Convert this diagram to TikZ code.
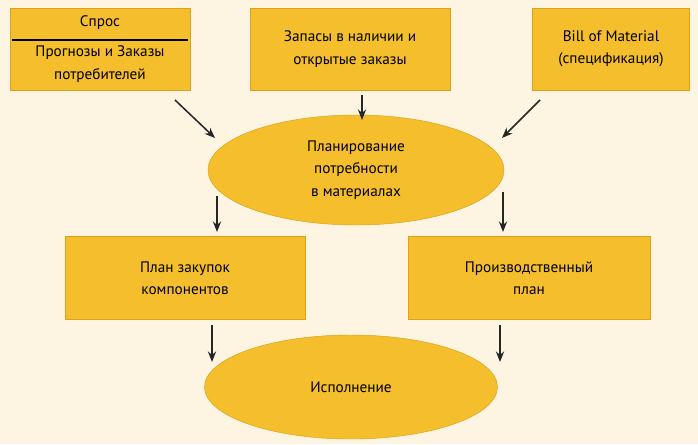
\documentclass[tikz,border=0pt]{standalone}
\usepackage{fontspec}
\setmainfont{PT Sans}
\usetikzlibrary{arrows.meta,shapes.geometric}
\definecolor{mrpYellow}{HTML}{F4BE2C}
\definecolor{mrpEdge}{HTML}{D9A21A}
\definecolor{mrpBack}{HTML}{FDF5E2}
\tikzset{
  block/.style={draw=mrpEdge, fill=mrpYellow, align=center, font=\fontsize{13}{19}\selectfont},
  flow/.style={-{Stealth[length=9pt,width=7pt]}, line width=1.3pt, black!85}
}
\begin{document}
\begin{tikzpicture}[x=0.03cm, y=-0.03cm]
  \fill[mrpBack] (0,0) rectangle (698,444);
  \useasboundingbox (0,0) rectangle (698,444);

  \node[block, minimum width=180*0.03cm, minimum height=82*0.03cm] (demand) at (100,49) {};
  \draw[line width=1.2pt] (12,40) -- (188,40);
  \node[font=\fontsize{13}{19}\selectfont] (demandtop) at (100,23) {Спрос};
  \node[font=\fontsize{13}{19}\selectfont, align=center] (demandbot) at (100,64) {Прогнозы и Заказы\\потребителей};

  \node[block, minimum width=200*0.03cm, minimum height=82*0.03cm] (stock) at (350,49) {Запасы в наличии и\\открытые заказы};
  \node[block, minimum width=157*0.03cm, minimum height=82*0.03cm] (bom) at (611,49) {Bill of Material\\(спецификация)};

  \node[block, ellipse, minimum width=296*0.03cm, minimum height=110*0.03cm] (mrp) at (356,170) {Планирование\\потребности\\в материалах};

  \node[block, minimum width=240*0.03cm, minimum height=83*0.03cm] (purchase) at (185,278) {План закупок\\компонентов};
  \node[block, minimum width=242*0.03cm, minimum height=83*0.03cm] (production) at (529,278) {Производственный\\план};

  \node[block, ellipse, minimum width=293*0.03cm, minimum height=104*0.03cm] (exec) at (351,387) {Исполнение};

  \coordinate (a1) at (175,100);
  \coordinate (a2) at (362,95);
  \coordinate (a3) at (540,100);
  \coordinate (b1) at (217,196);
  \coordinate (b2) at (503,192);
  \coordinate (c1) at (217,232);
  \coordinate (c2) at (503,232);
  \coordinate (d1) at (212,325);
  \coordinate (d2) at (500,325);
  \coordinate (e1) at (212,362);
  \coordinate (e2) at (500,362);

  \draw[flow] (a1) -- (215,138);
  \draw[flow] (a2) -- (362,120);
  \draw[flow] (a3) -- (502,138);
  \draw[flow] (b1) -- (c1);
  \draw[flow] (b2) -- (c2);
  \draw[flow] (d1) -- (e1);
  \draw[flow] (d2) -- (e2);
\end{tikzpicture}
\end{document}
